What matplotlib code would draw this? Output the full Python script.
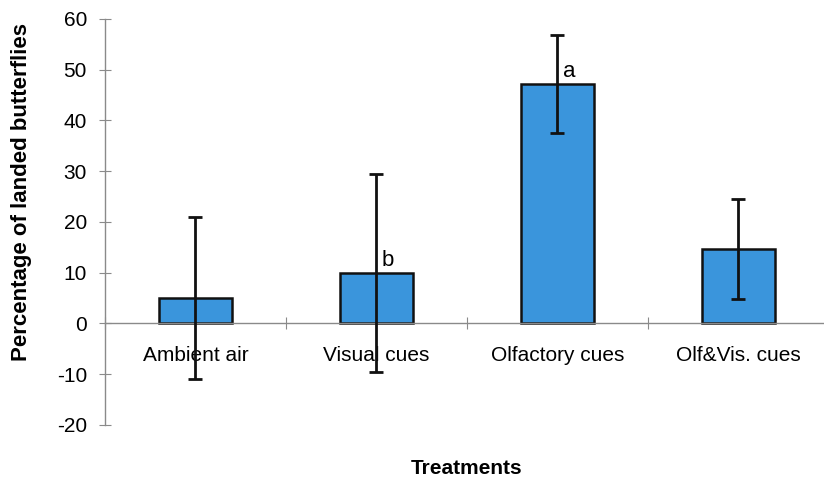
import matplotlib.pyplot as plt
import numpy as np

treatments = ['Ambient air', 'Visual cues', 'Olfactory cues', 'Olf&Vis. cues']
landed_pct = [5.0, 10.0, 47.2, 14.7]
errors = [16.0, 19.5, 9.7, 9.8]
letters = {1: 'b', 2: 'a'}

plt.rcParams['font.family'] = ['Liberation Sans', 'DejaVu Sans']
plt.rcParams['axes.unicode_minus'] = False

fig = plt.figure(figsize=(8.24, 4.82), dpi=100)
ax = fig.add_axes([0.1274, 0.1183, 0.8786, 0.8423])

x = np.arange(len(treatments))
ax.bar(x, landed_pct, width=0.4, color='#3a95dc', edgecolor='#111111', linewidth=1.8, zorder=2)
ax.errorbar(x, landed_pct, yerr=errors, fmt='none', ecolor='#111111',
            elinewidth=2, capsize=5, capthick=2, zorder=3)

# significance letters next to the error bars
for i, lab in letters.items():
    ax.text(x[i] + 0.03, landed_pct[i] + 0.3, lab, fontsize=16, ha='left', va='bottom')

ax.set_xlim(-0.5, len(treatments) - 0.5)
ax.set_ylim(-20, 60)
ax.set_yticks(np.arange(-20, 61, 10))

ax.spines['top'].set_visible(False)
ax.spines['right'].set_visible(False)
ax.spines['bottom'].set_position(('data', 0))
for s in ('left', 'bottom'):
    ax.spines[s].set_color('#8a8a8a')
    ax.spines[s].set_linewidth(1)

# category boundaries carry the ticks, names sit in between
ax.set_xticks(np.arange(len(treatments) + 1) - 0.5)
ax.set_xticklabels([])
ax.set_xticks(x, minor=True)
ax.set_xticklabels(treatments, minor=True, fontsize=15)
ax.tick_params(axis='x', which='minor', length=0, pad=16)
ax.tick_params(axis='x', which='major', direction='inout', length=8, color='#8a8a8a')
ax.tick_params(axis='y', direction='inout', length=8, color='#8a8a8a', labelsize=15, pad=9)

# y title sits a bit above the middle of the axis
fig.text(0.026, 0.602, 'Percentage of landed butterflies', rotation=90,
         ha='center', va='center', fontsize=16, fontweight='bold')
ax.text(0.5, -0.085, 'Treatments', transform=ax.transAxes, ha='center', va='top',
        fontsize=15, fontweight='bold')

fig.savefig('out.png', dpi=100)
